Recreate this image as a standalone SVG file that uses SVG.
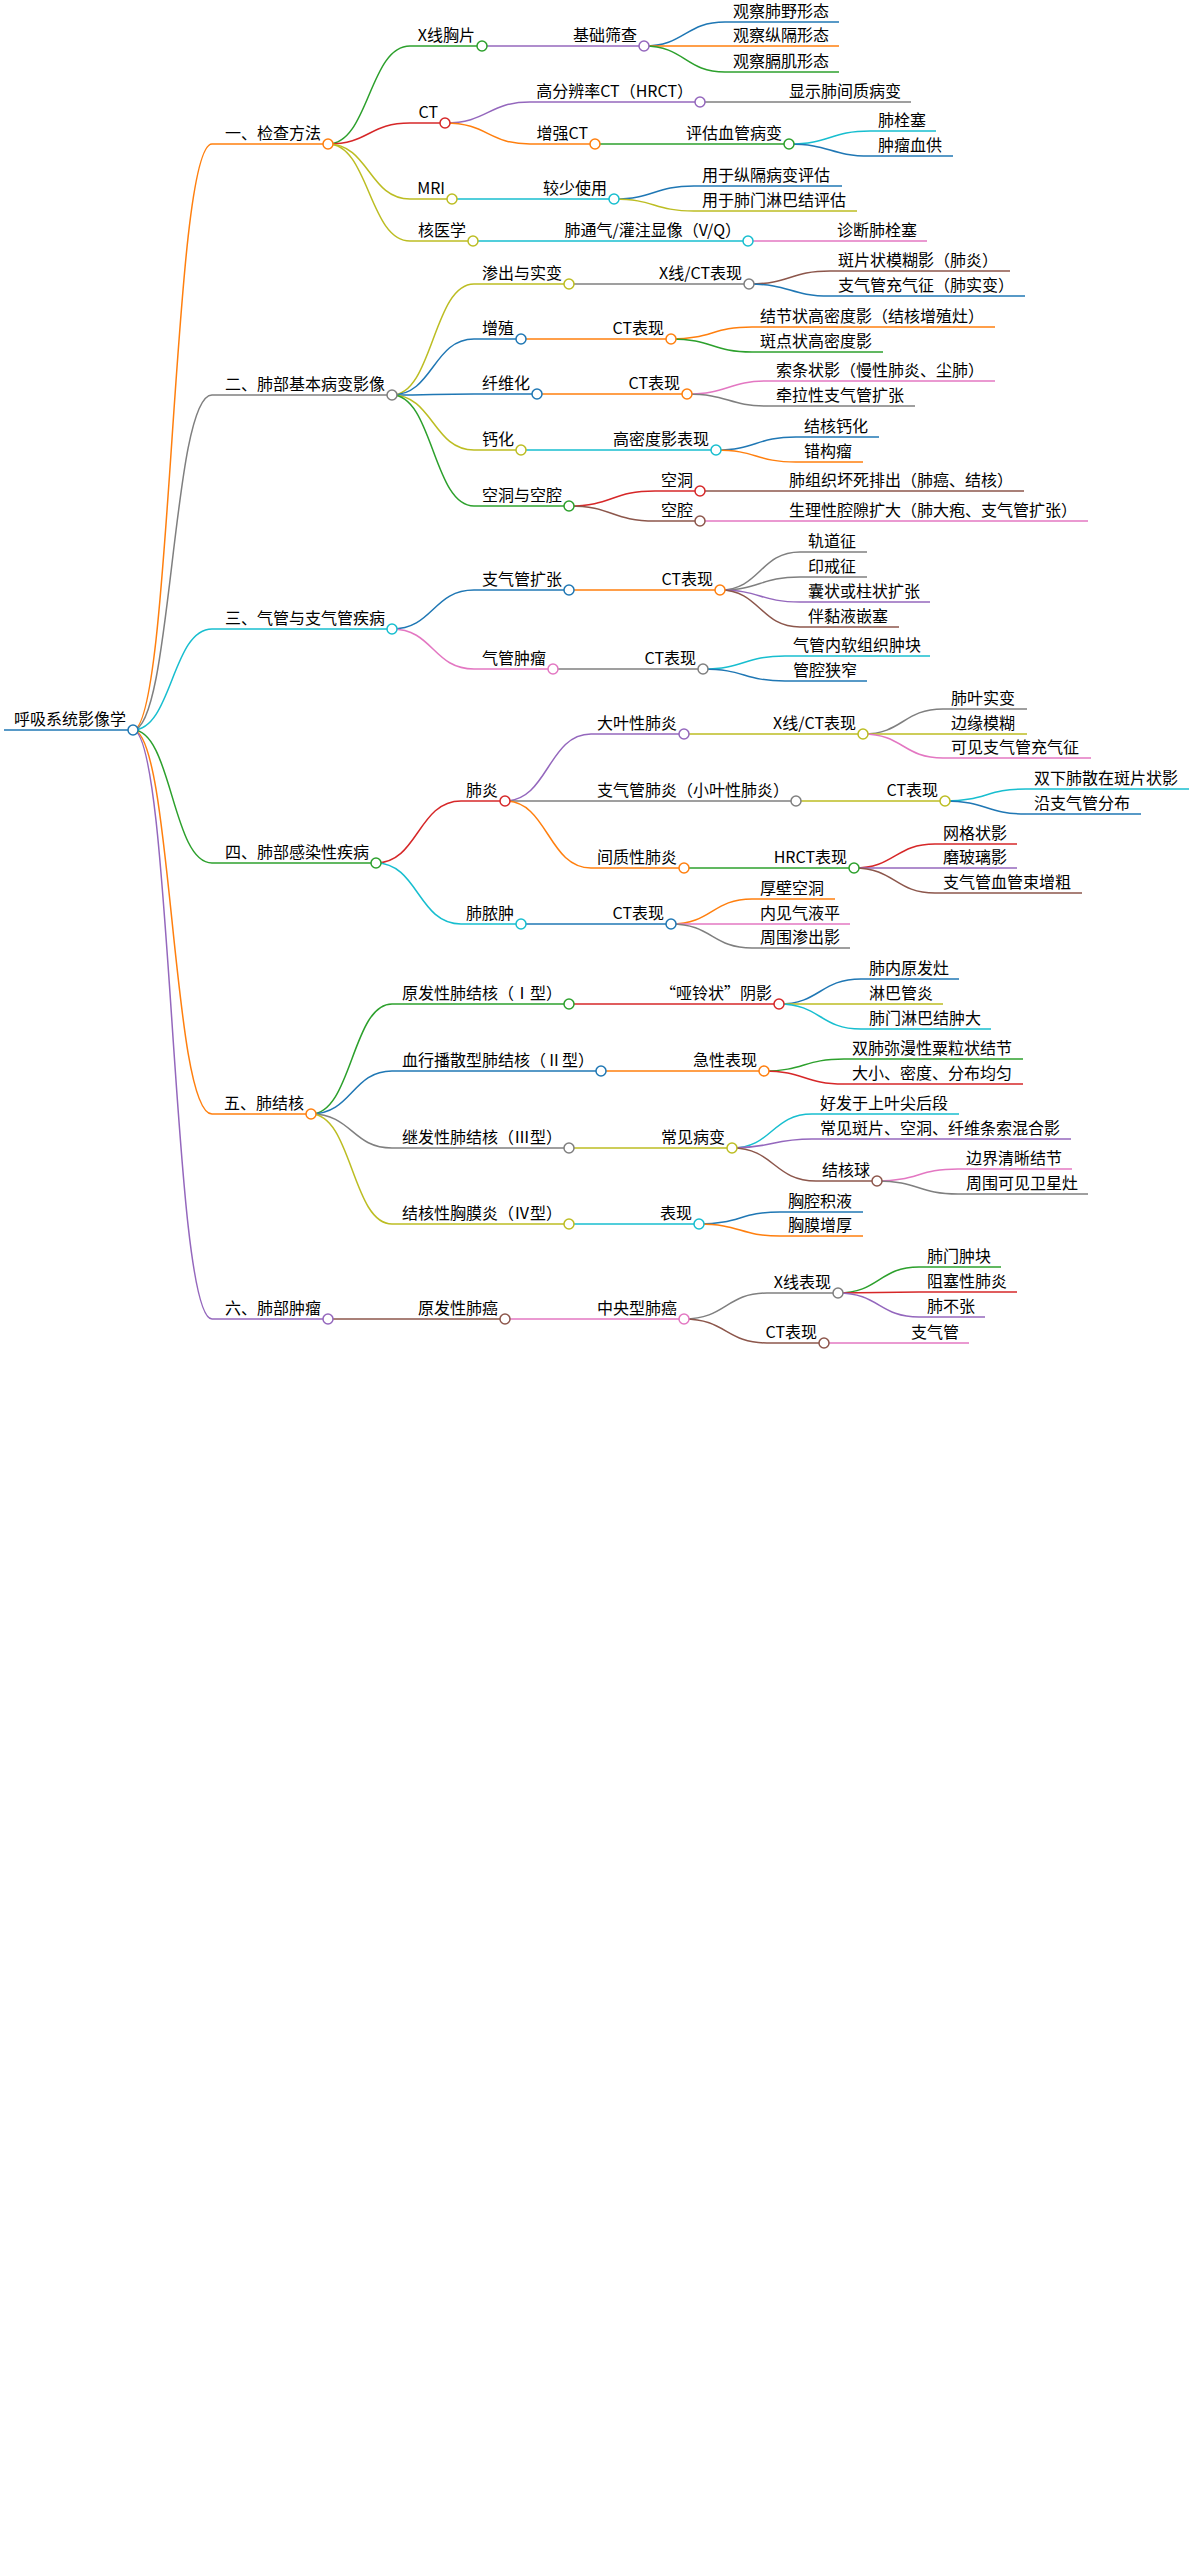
<svg xmlns="http://www.w3.org/2000/svg" width="1189" height="2549" viewBox="0 0 1189 2549">
<style>
text{font-family:"Noto Sans CJK SC","Noto Sans",sans-serif;font-size:16px;fill:#000}
.e{text-anchor:end}
path{fill:none;stroke-width:1.5}
line{stroke-width:1.5}
circle{fill:#fff;stroke-width:1.5}
</style>
<rect width="1189" height="2549" fill="#fff"/>
<g id="connectors">
<path d="M133,730 C172,730 172,144 212,144" stroke="#ff7f0e" stroke-width="2"/>
<path d="M133,730 C172,730 172,395 212,395" stroke="#7f7f7f" stroke-width="2"/>
<path d="M133,730 C172,730 172,629 212,629" stroke="#17becf" stroke-width="2"/>
<path d="M133,730 C172,730 172,863 212,863" stroke="#2ca02c" stroke-width="2"/>
<path d="M133,730 C172,730 172,1114 212,1114" stroke="#ff7f0e" stroke-width="2"/>
<path d="M133,730 C172,730 172,1319 212,1319" stroke="#9467bd" stroke-width="2"/>
<path d="M328,144 C369,144 369,46 410,46" stroke="#2ca02c"/>
<path d="M328,144 C369,144 369,123 410,123" stroke="#d62728"/>
<path d="M328,144 C369,144 369,199 410,199" stroke="#bcbd22"/>
<path d="M328,144 C369,144 369,241 410,241" stroke="#bcbd22"/>
<path d="M482,46 L568,46" stroke="#9467bd"/>
<path d="M644,46 C685,46 685,22 725,22" stroke="#1f77b4"/>
<path d="M644,46 L725,46" stroke="#ff7f0e"/>
<path d="M644,46 C685,46 685,72 725,72" stroke="#2ca02c"/>
<path d="M445,123 C488,123 488,102 530,102" stroke="#9467bd"/>
<path d="M445,123 C488,123 488,144 530,144" stroke="#ff7f0e"/>
<path d="M700,102 L781,102" stroke="#7f7f7f"/>
<path d="M595,144 L680,144" stroke="#2ca02c"/>
<path d="M789,144 C830,144 830,131 870,131" stroke="#17becf"/>
<path d="M789,144 C830,144 830,156 870,156" stroke="#1f77b4"/>
<path d="M452,199 L537,199" stroke="#17becf"/>
<path d="M614,199 C654,199 654,186 694,186" stroke="#1f77b4"/>
<path d="M614,199 C654,199 654,211 694,211" stroke="#bcbd22"/>
<path d="M473,241 L558,241" stroke="#17becf"/>
<path d="M748,241 L829,241" stroke="#e377c2"/>
<path d="M392,395 C433,395 433,284 474,284" stroke="#bcbd22"/>
<path d="M392,395 C433,395 433,339 474,339" stroke="#1f77b4"/>
<path d="M392,395 C433,395 433,394 474,394" stroke="#1f77b4"/>
<path d="M392,395 C433,395 433,450 474,450" stroke="#bcbd22"/>
<path d="M392,395 C433,395 433,506 474,506" stroke="#2ca02c"/>
<path d="M569,284 L654,284" stroke="#7f7f7f"/>
<path d="M749,284 C790,284 790,271 830,271" stroke="#8c564b"/>
<path d="M749,284 C790,284 790,296 830,296" stroke="#1f77b4"/>
<path d="M521,339 L606,339" stroke="#ff7f0e"/>
<path d="M671,339 C712,339 712,327 752,327" stroke="#ff7f0e"/>
<path d="M671,339 C712,339 712,352 752,352" stroke="#2ca02c"/>
<path d="M537,394 L623,394" stroke="#ff7f0e"/>
<path d="M687,394 C728,394 728,381 768,381" stroke="#e377c2"/>
<path d="M687,394 C728,394 728,406 768,406" stroke="#7f7f7f"/>
<path d="M521,450 L606,450" stroke="#17becf"/>
<path d="M716,450 C756,450 756,437 796,437" stroke="#1f77b4"/>
<path d="M716,450 C756,450 756,462 796,462" stroke="#ff7f0e"/>
<path d="M569,506 C612,506 612,491 655,491" stroke="#d62728"/>
<path d="M569,506 C612,506 612,521 655,521" stroke="#8c564b"/>
<path d="M700,491 L781,491" stroke="#8c564b"/>
<path d="M700,521 L781,521" stroke="#e377c2"/>
<path d="M392,629 C433,629 433,590 474,590" stroke="#1f77b4"/>
<path d="M392,629 C433,629 433,669 474,669" stroke="#e377c2"/>
<path d="M569,590 L655,590" stroke="#ff7f0e"/>
<path d="M720,590 C760,590 760,552 800,552" stroke="#7f7f7f"/>
<path d="M720,590 C760,590 760,577 800,577" stroke="#7f7f7f"/>
<path d="M720,590 C760,590 760,602 800,602" stroke="#9467bd"/>
<path d="M720,590 C760,590 760,627 800,627" stroke="#8c564b"/>
<path d="M553,669 L639,669" stroke="#7f7f7f"/>
<path d="M703,669 C744,669 744,656 785,656" stroke="#17becf"/>
<path d="M703,669 C744,669 744,681 785,681" stroke="#1f77b4"/>
<path d="M376,863 C418,863 418,801 461,801" stroke="#d62728"/>
<path d="M376,863 C418,863 418,924 461,924" stroke="#17becf"/>
<path d="M505,801 C548,801 548,734 591,734" stroke="#9467bd"/>
<path d="M505,801 L591,801" stroke="#7f7f7f"/>
<path d="M505,801 C548,801 548,868 591,868" stroke="#ff7f0e"/>
<path d="M684,734 L767,734" stroke="#bcbd22"/>
<path d="M863,734 C903,734 903,709 943,709" stroke="#7f7f7f"/>
<path d="M863,734 L943,734" stroke="#bcbd22"/>
<path d="M863,734 C903,734 903,758 943,758" stroke="#e377c2"/>
<path d="M796,801 L880,801" stroke="#bcbd22"/>
<path d="M945,801 C986,801 986,789 1026,789" stroke="#17becf"/>
<path d="M945,801 C986,801 986,814 1026,814" stroke="#1f77b4"/>
<path d="M684,868 L767,868" stroke="#2ca02c"/>
<path d="M854,868 C895,868 895,844 935,844" stroke="#d62728"/>
<path d="M854,868 L935,868" stroke="#9467bd"/>
<path d="M854,868 C895,868 895,893 935,893" stroke="#8c564b"/>
<path d="M521,924 L606,924" stroke="#1f77b4"/>
<path d="M671,924 C712,924 712,899 752,899" stroke="#ff7f0e"/>
<path d="M671,924 L752,924" stroke="#e377c2"/>
<path d="M671,924 C712,924 712,948 752,948" stroke="#7f7f7f"/>
<path d="M311,1114 C352,1114 352,1004 392,1004" stroke="#2ca02c"/>
<path d="M311,1114 C352,1114 352,1071 392,1071" stroke="#1f77b4"/>
<path d="M311,1114 C352,1114 352,1148 392,1148" stroke="#7f7f7f"/>
<path d="M311,1114 C352,1114 352,1224 392,1224" stroke="#bcbd22"/>
<path d="M569,1004 L664,1004" stroke="#d62728"/>
<path d="M779,1004 C820,1004 820,979 861,979" stroke="#1f77b4"/>
<path d="M779,1004 L861,1004" stroke="#bcbd22"/>
<path d="M779,1004 C820,1004 820,1029 861,1029" stroke="#17becf"/>
<path d="M601,1071 L687,1071" stroke="#ff7f0e"/>
<path d="M764,1071 C804,1071 804,1059 844,1059" stroke="#2ca02c"/>
<path d="M764,1071 C804,1071 804,1084 844,1084" stroke="#d62728"/>
<path d="M569,1148 L655,1148" stroke="#bcbd22"/>
<path d="M732,1148 C772,1148 772,1114 812,1114" stroke="#17becf"/>
<path d="M732,1148 C772,1148 772,1139 812,1139" stroke="#9467bd"/>
<path d="M732,1148 C774,1148 774,1181 816,1181" stroke="#8c564b"/>
<path d="M877,1181 C918,1181 918,1169 958,1169" stroke="#e377c2"/>
<path d="M877,1181 C918,1181 918,1194 958,1194" stroke="#7f7f7f"/>
<path d="M569,1224 L655,1224" stroke="#17becf"/>
<path d="M699,1224 C740,1224 740,1212 780,1212" stroke="#1f77b4"/>
<path d="M699,1224 C740,1224 740,1236 780,1236" stroke="#ff7f0e"/>
<path d="M328,1319 L412,1319" stroke="#8c564b"/>
<path d="M505,1319 L591,1319" stroke="#e377c2"/>
<path d="M684,1319 C726,1319 726,1293 767,1293" stroke="#7f7f7f"/>
<path d="M684,1319 C726,1319 726,1343 767,1343" stroke="#8c564b"/>
<path d="M838,1293 C879,1293 879,1267 919,1267" stroke="#2ca02c"/>
<path d="M838,1293 L919,1292" stroke="#d62728"/>
<path d="M838,1293 C879,1293 879,1317 919,1317" stroke="#9467bd"/>
<path d="M824,1343 L903,1343" stroke="#e377c2"/>
</g>
<g id="root"><line x1="4" y1="730" x2="133" y2="730" stroke="#1f77b4" stroke-width="4"/><circle cx="133" cy="730" r="5" stroke="#1f77b4"/><text x="126" y="725" class="e">呼吸系统影像学</text></g>
<g id="n1"><line x1="212" y1="144" x2="328" y2="144" stroke="#ff7f0e" stroke-width="2"/><circle cx="328" cy="144" r="5" stroke="#ff7f0e"/><text x="321" y="139" class="e">一、检查方法</text></g>
<g id="n1a"><line x1="410" y1="46" x2="482" y2="46" stroke="#2ca02c"/><circle cx="482" cy="46" r="5" stroke="#2ca02c"/><text x="475" y="41" class="e">X线胸片</text></g>
<g id="n1a1"><line x1="568" y1="46" x2="644" y2="46" stroke="#9467bd"/><circle cx="644" cy="46" r="5" stroke="#9467bd"/><text x="637" y="41" class="e">基础筛查</text></g>
<g id="l1"><line x1="725" y1="22" x2="839" y2="22" stroke="#1f77b4"/><text x="733" y="17">观察肺野形态</text></g>
<g id="l2"><line x1="725" y1="46" x2="839" y2="46" stroke="#ff7f0e"/><text x="733" y="41">观察纵隔形态</text></g>
<g id="l3"><line x1="725" y1="72" x2="839" y2="72" stroke="#2ca02c"/><text x="733" y="67">观察膈肌形态</text></g>
<g id="n1b"><line x1="410" y1="123" x2="445" y2="123" stroke="#d62728"/><circle cx="445" cy="123" r="5" stroke="#d62728"/><text x="438" y="118" class="e">CT</text></g>
<g id="n1b1"><line x1="530" y1="102" x2="700" y2="102" stroke="#9467bd"/><circle cx="700" cy="102" r="5" stroke="#9467bd"/><text x="693" y="97" class="e">高分辨率CT（HRCT）</text></g>
<g id="l4"><line x1="781" y1="102" x2="911" y2="102" stroke="#7f7f7f"/><text x="789" y="97">显示肺间质病变</text></g>
<g id="n1b2"><line x1="530" y1="144" x2="595" y2="144" stroke="#ff7f0e"/><circle cx="595" cy="144" r="5" stroke="#ff7f0e"/><text x="588" y="139" class="e">增强CT</text></g>
<g id="n1b2a"><line x1="680" y1="144" x2="789" y2="144" stroke="#2ca02c"/><circle cx="789" cy="144" r="5" stroke="#2ca02c"/><text x="782" y="139" class="e">评估血管病变</text></g>
<g id="l5"><line x1="870" y1="131" x2="936" y2="131" stroke="#17becf"/><text x="878" y="126">肺栓塞</text></g>
<g id="l6"><line x1="870" y1="156" x2="953" y2="156" stroke="#1f77b4"/><text x="878" y="151">肿瘤血供</text></g>
<g id="n1c"><line x1="410" y1="199" x2="452" y2="199" stroke="#bcbd22"/><circle cx="452" cy="199" r="5" stroke="#bcbd22"/><text x="445" y="194" class="e">MRI</text></g>
<g id="n1c1"><line x1="537" y1="199" x2="614" y2="199" stroke="#17becf"/><circle cx="614" cy="199" r="5" stroke="#17becf"/><text x="607" y="194" class="e">较少使用</text></g>
<g id="l7"><line x1="694" y1="186" x2="842" y2="186" stroke="#1f77b4"/><text x="702" y="181">用于纵隔病变评估</text></g>
<g id="l8"><line x1="694" y1="211" x2="857" y2="211" stroke="#bcbd22"/><text x="702" y="206">用于肺门淋巴结评估</text></g>
<g id="n1d"><line x1="410" y1="241" x2="473" y2="241" stroke="#bcbd22"/><circle cx="473" cy="241" r="5" stroke="#bcbd22"/><text x="466" y="236" class="e">核医学</text></g>
<g id="n1d1"><line x1="558" y1="241" x2="748" y2="241" stroke="#17becf"/><circle cx="748" cy="241" r="5" stroke="#17becf"/><text x="741" y="236" class="e">肺通气/灌注显像（V/Q）</text></g>
<g id="l9"><line x1="829" y1="241" x2="927" y2="241" stroke="#e377c2"/><text x="837" y="236">诊断肺栓塞</text></g>
<g id="n2"><line x1="212" y1="395" x2="392" y2="395" stroke="#7f7f7f" stroke-width="2"/><circle cx="392" cy="395" r="5" stroke="#7f7f7f"/><text x="385" y="390" class="e">二、肺部基本病变影像</text></g>
<g id="n2a"><line x1="474" y1="284" x2="569" y2="284" stroke="#bcbd22"/><circle cx="569" cy="284" r="5" stroke="#bcbd22"/><text x="562" y="279" class="e">渗出与实变</text></g>
<g id="n2a1"><line x1="654" y1="284" x2="749" y2="284" stroke="#7f7f7f"/><circle cx="749" cy="284" r="5" stroke="#7f7f7f"/><text x="742" y="279" class="e">X线/CT表现</text></g>
<g id="l10"><line x1="830" y1="271" x2="1010" y2="271" stroke="#8c564b"/><text x="838" y="266">斑片状模糊影（肺炎）</text></g>
<g id="l11"><line x1="830" y1="296" x2="1025" y2="296" stroke="#1f77b4"/><text x="838" y="291">支气管充气征（肺实变）</text></g>
<g id="n2b"><line x1="474" y1="339" x2="521" y2="339" stroke="#1f77b4"/><circle cx="521" cy="339" r="5" stroke="#1f77b4"/><text x="514" y="334" class="e">增殖</text></g>
<g id="n2b1"><line x1="606" y1="339" x2="671" y2="339" stroke="#ff7f0e"/><circle cx="671" cy="339" r="5" stroke="#ff7f0e"/><text x="664" y="334" class="e">CT表现</text></g>
<g id="l12"><line x1="752" y1="327" x2="995" y2="327" stroke="#ff7f0e"/><text x="760" y="322">结节状高密度影（结核增殖灶）</text></g>
<g id="l13"><line x1="752" y1="352" x2="883" y2="352" stroke="#2ca02c"/><text x="760" y="347">斑点状高密度影</text></g>
<g id="n2c"><line x1="474" y1="394" x2="537" y2="394" stroke="#1f77b4"/><circle cx="537" cy="394" r="5" stroke="#1f77b4"/><text x="530" y="389" class="e">纤维化</text></g>
<g id="n2c1"><line x1="623" y1="394" x2="687" y2="394" stroke="#ff7f0e"/><circle cx="687" cy="394" r="5" stroke="#ff7f0e"/><text x="680" y="389" class="e">CT表现</text></g>
<g id="l14"><line x1="768" y1="381" x2="995" y2="381" stroke="#e377c2"/><text x="776" y="376">索条状影（慢性肺炎、尘肺）</text></g>
<g id="l15"><line x1="768" y1="406" x2="915" y2="406" stroke="#7f7f7f"/><text x="776" y="401">牵拉性支气管扩张</text></g>
<g id="n2d"><line x1="474" y1="450" x2="521" y2="450" stroke="#bcbd22"/><circle cx="521" cy="450" r="5" stroke="#bcbd22"/><text x="514" y="445" class="e">钙化</text></g>
<g id="n2d1"><line x1="606" y1="450" x2="716" y2="450" stroke="#17becf"/><circle cx="716" cy="450" r="5" stroke="#17becf"/><text x="709" y="445" class="e">高密度影表现</text></g>
<g id="l16"><line x1="796" y1="437" x2="879" y2="437" stroke="#1f77b4"/><text x="804" y="432">结核钙化</text></g>
<g id="l17"><line x1="796" y1="462" x2="863" y2="462" stroke="#ff7f0e"/><text x="804" y="457">错构瘤</text></g>
<g id="n2e"><line x1="474" y1="506" x2="569" y2="506" stroke="#2ca02c"/><circle cx="569" cy="506" r="5" stroke="#2ca02c"/><text x="562" y="501" class="e">空洞与空腔</text></g>
<g id="n2e1"><line x1="655" y1="491" x2="700" y2="491" stroke="#d62728"/><circle cx="700" cy="491" r="5" stroke="#d62728"/><text x="693" y="486" class="e">空洞</text></g>
<g id="l18"><line x1="781" y1="491" x2="1024" y2="491" stroke="#8c564b"/><text x="789" y="486">肺组织坏死排出（肺癌、结核）</text></g>
<g id="n2e2"><line x1="655" y1="521" x2="700" y2="521" stroke="#8c564b"/><circle cx="700" cy="521" r="5" stroke="#8c564b"/><text x="693" y="516" class="e">空腔</text></g>
<g id="l19"><line x1="781" y1="521" x2="1088" y2="521" stroke="#e377c2"/><text x="789" y="516">生理性腔隙扩大（肺大疱、支气管扩张）</text></g>
<g id="n3"><line x1="212" y1="629" x2="392" y2="629" stroke="#17becf" stroke-width="2"/><circle cx="392" cy="629" r="5" stroke="#17becf"/><text x="385" y="624" class="e">三、气管与支气管疾病</text></g>
<g id="n3a"><line x1="474" y1="590" x2="569" y2="590" stroke="#1f77b4"/><circle cx="569" cy="590" r="5" stroke="#1f77b4"/><text x="562" y="585" class="e">支气管扩张</text></g>
<g id="n3a1"><line x1="655" y1="590" x2="720" y2="590" stroke="#ff7f0e"/><circle cx="720" cy="590" r="5" stroke="#ff7f0e"/><text x="713" y="585" class="e">CT表现</text></g>
<g id="l20"><line x1="800" y1="552" x2="867" y2="552" stroke="#7f7f7f"/><text x="808" y="547">轨道征</text></g>
<g id="l21"><line x1="800" y1="577" x2="867" y2="577" stroke="#7f7f7f"/><text x="808" y="572">印戒征</text></g>
<g id="l22"><line x1="800" y1="602" x2="930" y2="602" stroke="#9467bd"/><text x="808" y="597">囊状或柱状扩张</text></g>
<g id="l23"><line x1="800" y1="627" x2="899" y2="627" stroke="#8c564b"/><text x="808" y="622">伴黏液嵌塞</text></g>
<g id="n3b"><line x1="474" y1="669" x2="553" y2="669" stroke="#e377c2"/><circle cx="553" cy="669" r="5" stroke="#e377c2"/><text x="546" y="664" class="e">气管肿瘤</text></g>
<g id="n3b1"><line x1="639" y1="669" x2="703" y2="669" stroke="#7f7f7f"/><circle cx="703" cy="669" r="5" stroke="#7f7f7f"/><text x="696" y="664" class="e">CT表现</text></g>
<g id="l24"><line x1="785" y1="656" x2="930" y2="656" stroke="#17becf"/><text x="793" y="651">气管内软组织肿块</text></g>
<g id="l25"><line x1="785" y1="681" x2="867" y2="681" stroke="#1f77b4"/><text x="793" y="676">管腔狭窄</text></g>
<g id="n4"><line x1="212" y1="863" x2="376" y2="863" stroke="#2ca02c" stroke-width="2"/><circle cx="376" cy="863" r="5" stroke="#2ca02c"/><text x="369" y="858" class="e">四、肺部感染性疾病</text></g>
<g id="n4a"><line x1="461" y1="801" x2="505" y2="801" stroke="#d62728"/><circle cx="505" cy="801" r="5" stroke="#d62728"/><text x="498" y="796" class="e">肺炎</text></g>
<g id="n4a1"><line x1="591" y1="734" x2="684" y2="734" stroke="#9467bd"/><circle cx="684" cy="734" r="5" stroke="#9467bd"/><text x="677" y="729" class="e">大叶性肺炎</text></g>
<g id="n4a1a"><line x1="767" y1="734" x2="863" y2="734" stroke="#bcbd22"/><circle cx="863" cy="734" r="5" stroke="#bcbd22"/><text x="856" y="729" class="e">X线/CT表现</text></g>
<g id="l26"><line x1="943" y1="709" x2="1027" y2="709" stroke="#7f7f7f"/><text x="951" y="704">肺叶实变</text></g>
<g id="l27"><line x1="943" y1="734" x2="1027" y2="734" stroke="#bcbd22"/><text x="951" y="729">边缘模糊</text></g>
<g id="l28"><line x1="943" y1="758" x2="1091" y2="758" stroke="#e377c2"/><text x="951" y="753">可见支气管充气征</text></g>
<g id="n4a2"><line x1="591" y1="801" x2="796" y2="801" stroke="#7f7f7f"/><circle cx="796" cy="801" r="5" stroke="#7f7f7f"/><text x="789" y="796" class="e">支气管肺炎（小叶性肺炎）</text></g>
<g id="n4a2a"><line x1="880" y1="801" x2="945" y2="801" stroke="#bcbd22"/><circle cx="945" cy="801" r="5" stroke="#bcbd22"/><text x="938" y="796" class="e">CT表现</text></g>
<g id="l29"><line x1="1026" y1="789" x2="1189" y2="789" stroke="#17becf"/><text x="1034" y="784">双下肺散在斑片状影</text></g>
<g id="l30"><line x1="1026" y1="814" x2="1141" y2="814" stroke="#1f77b4"/><text x="1034" y="809">沿支气管分布</text></g>
<g id="n4a3"><line x1="591" y1="868" x2="684" y2="868" stroke="#ff7f0e"/><circle cx="684" cy="868" r="5" stroke="#ff7f0e"/><text x="677" y="863" class="e">间质性肺炎</text></g>
<g id="n4a3a"><line x1="767" y1="868" x2="854" y2="868" stroke="#2ca02c"/><circle cx="854" cy="868" r="5" stroke="#2ca02c"/><text x="847" y="863" class="e">HRCT表现</text></g>
<g id="l31"><line x1="935" y1="844" x2="1017" y2="844" stroke="#d62728"/><text x="943" y="839">网格状影</text></g>
<g id="l32"><line x1="935" y1="868" x2="1017" y2="868" stroke="#9467bd"/><text x="943" y="863">磨玻璃影</text></g>
<g id="l33"><line x1="935" y1="893" x2="1082" y2="893" stroke="#8c564b"/><text x="943" y="888">支气管血管束增粗</text></g>
<g id="n4b"><line x1="461" y1="924" x2="521" y2="924" stroke="#17becf"/><circle cx="521" cy="924" r="5" stroke="#17becf"/><text x="514" y="919" class="e">肺脓肿</text></g>
<g id="n4b1"><line x1="606" y1="924" x2="671" y2="924" stroke="#1f77b4"/><circle cx="671" cy="924" r="5" stroke="#1f77b4"/><text x="664" y="919" class="e">CT表现</text></g>
<g id="l34"><line x1="752" y1="899" x2="835" y2="899" stroke="#ff7f0e"/><text x="760" y="894">厚壁空洞</text></g>
<g id="l35"><line x1="752" y1="924" x2="850" y2="924" stroke="#e377c2"/><text x="760" y="919">内见气液平</text></g>
<g id="l36"><line x1="752" y1="948" x2="850" y2="948" stroke="#7f7f7f"/><text x="760" y="943">周围渗出影</text></g>
<g id="n5"><line x1="212" y1="1114" x2="311" y2="1114" stroke="#ff7f0e" stroke-width="2"/><circle cx="311" cy="1114" r="5" stroke="#ff7f0e"/><text x="304" y="1109" class="e">五、肺结核</text></g>
<g id="n5a"><line x1="392" y1="1004" x2="569" y2="1004" stroke="#2ca02c"/><circle cx="569" cy="1004" r="5" stroke="#2ca02c"/><text x="562" y="999" class="e">原发性肺结核（Ⅰ型）</text></g>
<g id="n5a1"><line x1="664" y1="1004" x2="779" y2="1004" stroke="#d62728"/><circle cx="779" cy="1004" r="5" stroke="#d62728"/><text x="772" y="999" class="e">“哑铃状”阴影</text></g>
<g id="l37"><line x1="861" y1="979" x2="959" y2="979" stroke="#1f77b4"/><text x="869" y="974">肺内原发灶</text></g>
<g id="l38"><line x1="861" y1="1004" x2="943" y2="1004" stroke="#bcbd22"/><text x="869" y="999">淋巴管炎</text></g>
<g id="l39"><line x1="861" y1="1029" x2="991" y2="1029" stroke="#17becf"/><text x="869" y="1024">肺门淋巴结肿大</text></g>
<g id="n5b"><line x1="392" y1="1071" x2="601" y2="1071" stroke="#1f77b4"/><circle cx="601" cy="1071" r="5" stroke="#1f77b4"/><text x="594" y="1066" class="e">血行播散型肺结核（Ⅱ型）</text></g>
<g id="n5b1"><line x1="687" y1="1071" x2="764" y2="1071" stroke="#ff7f0e"/><circle cx="764" cy="1071" r="5" stroke="#ff7f0e"/><text x="757" y="1066" class="e">急性表现</text></g>
<g id="l40"><line x1="844" y1="1059" x2="1023" y2="1059" stroke="#2ca02c"/><text x="852" y="1054">双肺弥漫性粟粒状结节</text></g>
<g id="l41"><line x1="844" y1="1084" x2="1023" y2="1084" stroke="#d62728"/><text x="852" y="1079">大小、密度、分布均匀</text></g>
<g id="n5c"><line x1="392" y1="1148" x2="569" y2="1148" stroke="#7f7f7f"/><circle cx="569" cy="1148" r="5" stroke="#7f7f7f"/><text x="562" y="1143" class="e">继发性肺结核（Ⅲ型）</text></g>
<g id="n5c1"><line x1="655" y1="1148" x2="732" y2="1148" stroke="#bcbd22"/><circle cx="732" cy="1148" r="5" stroke="#bcbd22"/><text x="725" y="1143" class="e">常见病变</text></g>
<g id="l42"><line x1="812" y1="1114" x2="959" y2="1114" stroke="#17becf"/><text x="820" y="1109">好发于上叶尖后段</text></g>
<g id="l43"><line x1="812" y1="1139" x2="1071" y2="1139" stroke="#9467bd"/><text x="820" y="1134">常见斑片、空洞、纤维条索混合影</text></g>
<g id="n5c1a"><line x1="816" y1="1181" x2="877" y2="1181" stroke="#8c564b"/><circle cx="877" cy="1181" r="5" stroke="#8c564b"/><text x="870" y="1176" class="e">结核球</text></g>
<g id="l44"><line x1="958" y1="1169" x2="1072" y2="1169" stroke="#e377c2"/><text x="966" y="1164">边界清晰结节</text></g>
<g id="l45"><line x1="958" y1="1194" x2="1088" y2="1194" stroke="#7f7f7f"/><text x="966" y="1189">周围可见卫星灶</text></g>
<g id="n5d"><line x1="392" y1="1224" x2="569" y2="1224" stroke="#bcbd22"/><circle cx="569" cy="1224" r="5" stroke="#bcbd22"/><text x="562" y="1219" class="e">结核性胸膜炎（Ⅳ型）</text></g>
<g id="n5d1"><line x1="655" y1="1224" x2="699" y2="1224" stroke="#17becf"/><circle cx="699" cy="1224" r="5" stroke="#17becf"/><text x="692" y="1219" class="e">表现</text></g>
<g id="l46"><line x1="780" y1="1212" x2="863" y2="1212" stroke="#1f77b4"/><text x="788" y="1207">胸腔积液</text></g>
<g id="l47"><line x1="780" y1="1236" x2="863" y2="1236" stroke="#ff7f0e"/><text x="788" y="1231">胸膜增厚</text></g>
<g id="n6"><line x1="212" y1="1319" x2="328" y2="1319" stroke="#9467bd" stroke-width="2"/><circle cx="328" cy="1319" r="5" stroke="#9467bd"/><text x="321" y="1314" class="e">六、肺部肿瘤</text></g>
<g id="n6a"><line x1="412" y1="1319" x2="505" y2="1319" stroke="#8c564b"/><circle cx="505" cy="1319" r="5" stroke="#8c564b"/><text x="498" y="1314" class="e">原发性肺癌</text></g>
<g id="n6a1"><line x1="591" y1="1319" x2="684" y2="1319" stroke="#e377c2"/><circle cx="684" cy="1319" r="5" stroke="#e377c2"/><text x="677" y="1314" class="e">中央型肺癌</text></g>
<g id="n6a1a"><line x1="767" y1="1293" x2="838" y2="1293" stroke="#7f7f7f"/><circle cx="838" cy="1293" r="5" stroke="#7f7f7f"/><text x="831" y="1288" class="e">X线表现</text></g>
<g id="l48"><line x1="919" y1="1267" x2="1001" y2="1267" stroke="#2ca02c"/><text x="927" y="1262">肺门肿块</text></g>
<g id="l49"><line x1="919" y1="1292" x2="1017" y2="1292" stroke="#d62728"/><text x="927" y="1287">阻塞性肺炎</text></g>
<g id="l50"><line x1="919" y1="1317" x2="985" y2="1317" stroke="#9467bd"/><text x="927" y="1312">肺不张</text></g>
<g id="n6a1b"><line x1="767" y1="1343" x2="824" y2="1343" stroke="#8c564b"/><circle cx="824" cy="1343" r="5" stroke="#8c564b"/><text x="817" y="1338" class="e">CT表现</text></g>
<g id="l51"><line x1="903" y1="1343" x2="969" y2="1343" stroke="#e377c2"/><text x="911" y="1338">支气管</text></g>
</svg>
